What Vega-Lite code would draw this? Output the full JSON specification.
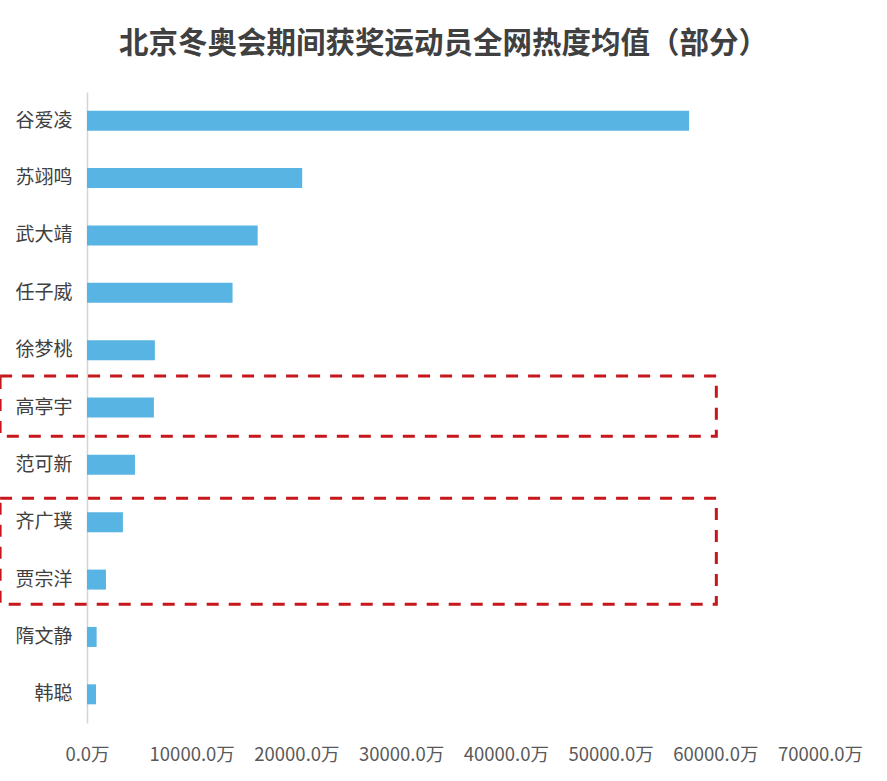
{
  "$schema": "https://vega.github.io/schema/vega-lite/v6.json",
  "autosize": {"type": "none"},
  "width": 733,
  "height": 631,
  "padding": {"left": 87, "top": 92, "right": 67, "bottom": 58},
  "background": "white",
  "title": {
    "text": "北京冬奥会期间获奖运动员全网热度均值（部分）",
    "font": "Noto Sans CJK SC",
    "fontSize": 29.5,
    "fontWeight": "bold",
    "color": "#404040",
    "anchor": "middle",
    "frame": "group",
    "dx": -10,
    "offset": 33
  },
  "config": {
    "view": {"stroke": null},
    "font": "Noto Sans CJK SC"
  },
  "datasets": {
    "athletes": [
      {"name": "谷爱凌", "value": 57500},
      {"name": "苏翊鸣", "value": 20550},
      {"name": "武大靖", "value": 16300},
      {"name": "任子威", "value": 13900},
      {"name": "徐梦桃", "value": 6480},
      {"name": "高亭宇", "value": 6390},
      {"name": "范可新", "value": 4580},
      {"name": "齐广璞", "value": 3430},
      {"name": "贾宗洋", "value": 1810},
      {"name": "隋文静", "value": 920},
      {"name": "韩聪", "value": 860}
    ],
    "boxes": [
      {"x0": -8300, "x1": 60100, "r0": 4.95, "r1": 6.0},
      {"x0": -8300, "x1": 60100, "r0": 7.08, "r1": 8.93}
    ]
  },
  "layer": [
    {
      "data": {"name": "athletes"},
      "mark": {"type": "bar", "color": "#58b4e2", "size": 20},
      "encoding": {
        "y": {
          "field": "name",
          "type": "nominal",
          "sort": null,
          "scale": {"paddingInner": 0, "paddingOuter": 0},
          "axis": {
            "title": null,
            "domainColor": "#d4d4d4",
            "domainWidth": 1.5,
            "ticks": false,
            "labelPadding": 15,
            "labelFontSize": 19,
            "labelColor": "#404040",
            "labelFont": "Noto Sans CJK SC",
            "grid": false
          }
        },
        "x": {
          "field": "value",
          "type": "quantitative",
          "scale": {"domain": [0, 70000], "nice": false},
          "axis": {
            "title": null,
            "values": [0, 10000, 20000, 30000, 40000, 50000, 60000, 70000],
            "labelExpr": "format(datum.value, '.1f') + '万'",
            "domain": false,
            "ticks": false,
            "grid": false,
            "labelPadding": 22,
            "labelFontSize": 18.5,
            "labelColor": "#595959",
            "labelFont": "Noto Sans CJK SC",
            "labelFlush": false
          }
        }
      }
    },
    {
      "data": {"name": "boxes"},
      "mark": {
        "type": "rect",
        "fill": null,
        "fillOpacity": 0,
        "stroke": "#c8161d",
        "strokeWidth": 3,
        "strokeDash": [12, 10],
        "clip": false
      },
      "encoding": {
        "x": {"field": "x0", "type": "quantitative"},
        "x2": {"field": "x1"},
        "y": {
          "field": "r0",
          "type": "quantitative",
          "scale": {"domain": [0, 11], "reverse": true, "nice": false, "zero": false},
          "axis": null
        },
        "y2": {"field": "r1"}
      }
    }
  ],
  "resolve": {"scale": {"y": "independent"}, "axis": {"y": "independent"}}
}
